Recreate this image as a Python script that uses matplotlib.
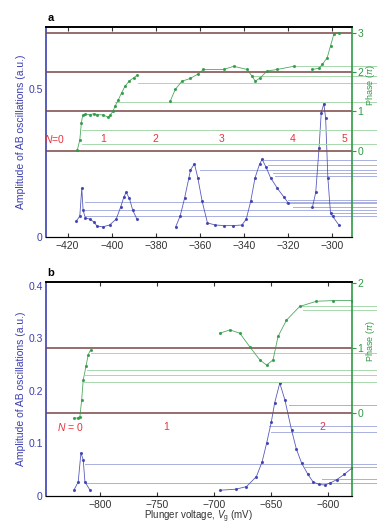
import matplotlib
matplotlib.use('Agg')
import matplotlib.pyplot as plt
import numpy as np

plt.rcParams['font.family'] = ['Liberation Sans', 'DejaVu Sans']
plt.rcParams['mathtext.fontset'] = 'custom'
plt.rcParams['mathtext.rm'] = 'Liberation Sans'
plt.rcParams['mathtext.it'] = 'Liberation Sans:italic'

##########################
# data

# panel a, amplitude (left axis)
a_amp_x = [-416, -414.5, -413.6, -413, -412, -410, -408, -406.7, -404, -401, -398, -396,
           -394.5, -393.5, -392, -390.5, -388.6]
a_amp_y = [0.054, 0.07, 0.165, 0.09, 0.064, 0.06, 0.05, 0.036, 0.034, 0.04, 0.06, 0.1,
           0.135, 0.15, 0.13, 0.09, 0.06]
a_amp_x2 = [-371, -369, -367, -365, -364.3, -362.5, -361, -359, -356.6, -353, -349, -345,
            -341, -339, -337, -335, -333, -331.8, -330, -328, -325, -322, -320]
a_amp_y2 = [0.034, 0.07, 0.13, 0.2, 0.226, 0.247, 0.2, 0.12, 0.047, 0.04, 0.038, 0.038,
            0.04, 0.06, 0.12, 0.2, 0.245, 0.262, 0.235, 0.2, 0.165, 0.135, 0.115]
a_amp_x3 = [-309, -307.5, -306, -305, -303.8, -303, -302, -300.8, -299.8, -297]
a_amp_y3 = [0.1, 0.15, 0.3, 0.42, 0.45, 0.4, 0.2, 0.08, 0.069, 0.04]

# panel a, phase (right axis, units of pi)
a_ph_x = [-415.6, -414.5, -413.8, -413.2, -412, -410, -408, -406.7, -404, -401.5, -400.7,
          -399.5, -398.5, -397, -395.5, -394, -392, -390, -388.6]
a_ph_y = [0.02, 0.27, 0.7, 0.9, 0.93, 0.92, 0.94, 0.92, 0.91, 0.85, 0.91, 1.0, 1.13, 1.3,
          1.48, 1.64, 1.78, 1.86, 1.92]
a_ph_x2 = [-373.5, -371.2, -368.2, -364.4, -361, -358.4, -349.3, -344.7, -338.6, -336.4,
           -334.9, -332.6, -329.6, -325, -317.5]
a_ph_y2 = [1.26, 1.56, 1.77, 1.84, 1.95, 2.07, 2.07, 2.15, 2.07, 1.9, 1.77, 1.86, 2.03,
           2.07, 2.15]
a_ph_x3 = [-309.1, -306, -304.5, -302.3, -300.8, -299.3, -297]
a_ph_y3 = [2.07, 2.1, 2.2, 2.37, 2.67, 2.97, 3.01]

# panel b, amplitude
b_amp_x = [-823.2, -819.4, -817, -815, -813.5, -809]
b_amp_y = [0.011, 0.027, 0.082, 0.069, 0.027, 0.011]
b_amp_x2 = [-695, -681, -671.7, -663, -658, -654.1, -650, -647, -642.5, -638, -632.2,
            -628, -623.4, -618, -613.3, -608, -603, -598, -592.7, -586, -579.3]
b_amp_y2 = [0.011, 0.013, 0.018, 0.037, 0.065, 0.1, 0.14, 0.177, 0.215, 0.183, 0.126,
            0.09, 0.063, 0.042, 0.027, 0.022, 0.021, 0.025, 0.031, 0.041, 0.053]

# panel b, phase
b_ph_x = [-823.2, -820, -817.9, -816.4, -815, -812.6, -810.6, -808.6]
b_ph_y = [-0.08, -0.07, -0.05, 0.2, 0.51, 0.72, 0.9, 0.97]
b_ph_x2 = [-695, -686.3, -677.6, -668.8, -660, -654.1, -648.4, -644, -636.6, -625,
           -610.3, -595.7, -579.3]
b_ph_y2 = [1.23, 1.28, 1.23, 1.02, 0.82, 0.74, 0.82, 1.18, 1.43, 1.64, 1.72, 1.73, 1.73]

# faint guide lines (level, start x)
a_green_lv = [1.73, 1.23, 0.53, 0.17, 2.15, 1.9]
a_green_x0 = [-388, -398.5, -413.5, -413.5, -317, -336]
a_blue_lv = [0.119, 0.091, 0.069, 0.26, 0.243, 0.226, 0.215, 0.204, 0.125, 0.114, 0.102, 0.08]
a_blue_x0 = [-412, -412, -412, -331, -329, -360, -327, -326, -320, -321, -318, -300]
b_green_lv = [0.93, 0.66, 0.59, 0.48, 1.64, 1.59]
b_green_x0 = [-808, -812, -813, -814, -625, -622]
b_blue_lv = [0.061, 0.025, 0.174, 0.134, 0.122, 0.055, 0.033]
b_blue_x0 = [-813, -813, -634, -652, -650, -620, -605]

a_N_x = [-425.8, -404, -380, -350, -318, -294.5]
a_N_lab = ['$N$=0', '1', '2', '3', '4', '5']
b_N_x = [-826.7, -742, -605]
b_N_lab = ['$N$ = 0', '1', '2']

blue = '#3b3fb0'
green = '#2f9a45'
brown = '#7a4545'
red = '#e8343c'
lightg = '#a8d8ae'
lightb = '#a9b0e0'


def panel(rect, xlim, ylim, ylim2, amp, ph, glines, blines, Nx, Nlab, Ny,
          xt, yt, yt2, ph_lines, letter):
    ax = fig.add_axes(rect)
    ax2 = ax.twinx()
    ax.set_xlim(xlim)
    ax.set_ylim(ylim)
    ax2.set_ylim(ylim2)
    for p in ph_lines:
        ax2.axhline(p, color=brown, lw=1.1, zorder=1)
    for lv, x0 in zip(glines[0], glines[1]):
        f = (x0 - xlim[0]) / (xlim[1] - xlim[0])
        ax2.axhline(lv, xmin=f, xmax=1.08, color=lightg, lw=0.7, clip_on=False, zorder=0)
    for lv, x0 in zip(blines[0], blines[1]):
        f = (x0 - xlim[0]) / (xlim[1] - xlim[0])
        ax.axhline(lv, xmin=f, xmax=1.08, color=lightb, lw=0.7, clip_on=False, zorder=0)
    for xs, ys in amp:
        ax.plot(xs, ys, color=blue, lw=0.6, marker='.', ms=2.5, alpha=0.85)
    for xs, ys in ph:
        ax2.plot(xs, ys, color=green, lw=0.6, marker='.', ms=2.5, alpha=0.85)
    for x, t in zip(Nx, Nlab):
        ax2.text(x, Ny, t, color=red, fontsize=7.5, ha='center', va='center')
    ax.set_xticks(xt)
    ax.set_xticklabels(['\u2212%d' % abs(v) for v in xt])
    ax.set_yticks(yt)
    ax.set_yticklabels([('%g' % v) for v in yt])
    ax2.set_yticks(yt2)
    ax.tick_params(axis='x', direction='in', top=True, length=3, labelsize=7.5,
                   colors='#333333', pad=3)
    ax.tick_params(axis='y', direction='in', length=0, labelsize=7.5, colors=blue, pad=2)
    ax2.tick_params(axis='y', direction='out', length=3, labelsize=7.5, colors=green, pad=1)
    ax.spines['left'].set_color(blue)
    ax.spines['left'].set_linewidth(1.2)
    ax2.spines['left'].set_visible(False)
    ax2.spines['right'].set_color(green)
    ax2.spines['right'].set_linewidth(1.2)
    ax.spines['right'].set_visible(False)
    ax.spines['top'].set_linewidth(1.2)
    ax2.spines['top'].set_linewidth(1.2)
    ax.set_ylabel('Amplitude of AB oscillations (a.u.)', color=blue, fontsize=7.5, labelpad=2)
    ax2.set_ylabel('Phase ($\\pi$)', color=green, fontsize=6.5, labelpad=1)
    fig.text(rect[0] + 0.005, rect[1] + rect[3] + 0.008, letter, fontsize=8,
             fontweight='bold', ha='left', va='bottom')
    return ax, ax2


fig = plt.figure(figsize=(3.77, 5.24), dpi=100)

axa, axa2 = panel([0.121, 0.548, 0.813, 0.401], (-430, -291), (0, 0.71), (-2.2, 3.16),
                  [(a_amp_x, a_amp_y), (a_amp_x2, a_amp_y2), (a_amp_x3, a_amp_y3)],
                  [(a_ph_x, a_ph_y), (a_ph_x2, a_ph_y2), (a_ph_x3, a_ph_y3)],
                  (a_green_lv, a_green_x0), (a_blue_lv, a_blue_x0),
                  a_N_x, a_N_lab, 0.3,
                  [-420, -400, -380, -360, -340, -320, -300], [0, 0.5], [0, 1, 2, 3],
                  [0, 1, 2, 3], 'a')
axa2.yaxis.set_label_coords(1.038, 0.72)

axb, axb2 = panel([0.121, 0.0534, 0.813, 0.409], (-848, -579), (0, 0.408), (-1.27, 2.02),
                  [(b_amp_x, b_amp_y), (b_amp_x2, b_amp_y2)],
                  [(b_ph_x, b_ph_y), (b_ph_x2, b_ph_y2)],
                  (b_green_lv, b_green_x0), (b_blue_lv, b_blue_x0),
                  b_N_x, b_N_lab, -0.21,
                  [-800, -750, -700, -650, -600], [0, 0.1, 0.2, 0.3, 0.4], [0, 1, 2],
                  [0, 1], 'b')
axb2.yaxis.set_label_coords(1.038, 0.72)
axb.set_xlabel('Plunger voltage, $V_{\\rm g}$ (mV)', fontsize=7, color='#333333', labelpad=-1)

fig.savefig('out.png', dpi=100)
